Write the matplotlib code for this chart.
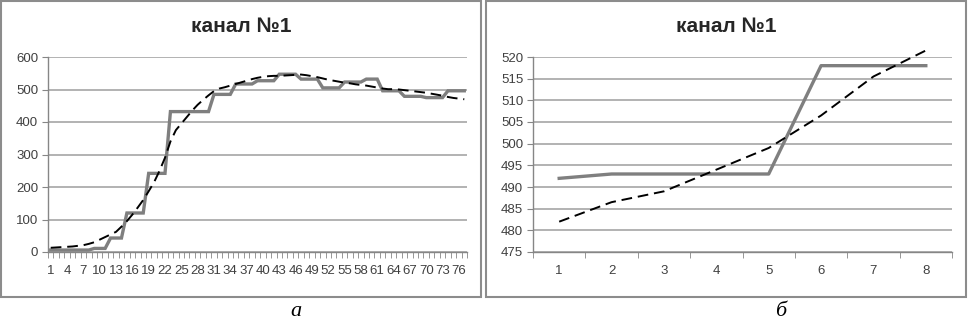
import matplotlib.pyplot as plt
from matplotlib.patches import Rectangle
import numpy as np

# ---- data ----
title_a = "канал №1"
title_b = "канал №1"

# panel a: 77 samples
measured_a = [
    6, 6, 6, 6, 6, 6, 6, 6, 11, 11, 11,
    43, 43, 43, 120, 120, 120, 120, 242, 242, 242, 242,
    432, 432, 432, 432, 432, 432, 432, 432,
    485, 485, 485, 485, 517, 517, 517, 517,
    527, 527, 527, 527, 547, 547, 547, 547,
    532, 532, 532, 532, 505, 505, 505, 505,
    523, 523, 523, 523, 532, 532, 532,
    496, 496, 496, 496, 479, 479, 479, 479,
    475, 475, 475, 475, 496, 496, 496, 496,
]
trend_a = [
    13, 14, 15, 16, 17, 19, 21, 25, 30, 38,
    46, 54, 62, 78, 95, 115, 137, 160, 187, 215,
    250, 290, 340, 375, 395, 415, 435, 453, 468, 482,
    495, 503, 507, 512, 517, 522, 527, 532, 536, 539,
    541, 542, 542, 543, 544, 545, 546, 544, 541, 538,
    534, 530, 527, 524, 521, 519, 516, 514, 512, 509,
    506, 503, 501, 501, 500, 498, 496, 494, 492, 490,
    487, 484, 481, 477, 474, 472, 470,
]
xlabels_a = list(range(1, 77, 3))

# panel b: 8 samples
measured_b = [492, 493, 493, 493, 493, 518, 518, 518]
trend_b = [482, 486.5, 489, 494, 499, 506.5, 515.5, 521.5]

captions = ["а", "б"]

W, H = 968, 322
fig = plt.figure(figsize=(W / 100, H / 100), dpi=100)

label_font = ["Liberation Sans", "DejaVu Sans"]
title_font = ["Liberation Sans Narrow", "Liberation Sans", "DejaVu Sans"]
grid_c = "#a6a6a6"
axis_c = "#868686"
text_c = "#404040"


def px_axes(x0, x1, y_top, y_bot):
    return fig.add_axes([x0 / W, (H - y_bot) / H, (x1 - x0) / W, (y_bot - y_top) / H])


def style(ax, n, ylim, ystep, xlabels):
    ax.set_xlim(0.5, n + 0.5)
    ax.set_ylim(*ylim)
    ax.set_yticks(np.arange(ylim[0], ylim[1] + ystep / 2, ystep))
    ax.set_xticks(xlabels)
    ax.set_xticklabels([str(v) for v in xlabels])
    ax.set_xticks(np.arange(0.5, n + 1, 1), minor=True)
    ax.tick_params(axis="x", which="major", length=0, pad=9, labelsize=9.5,
                   labelcolor=text_c)
    ax.tick_params(axis="x", which="minor", length=4, direction="out",
                   color=axis_c)
    ax.tick_params(axis="y", length=4, color=axis_c, labelsize=9.5,
                   labelcolor=text_c, pad=3)
    for lab in ax.get_xticklabels() + ax.get_yticklabels():
        lab.set_family(label_font)
    for s in ["top", "right"]:
        ax.spines[s].set_visible(False)
    for s in ["left", "bottom"]:
        ax.spines[s].set_color(axis_c)
        ax.spines[s].set_linewidth(1)
    ax.grid(axis="y", color=grid_c, linewidth=1.2)
    ax.set_axisbelow(True)


# panel a
ax1 = px_axes(48, 467, 57, 252)
xa = np.arange(1, len(measured_a) + 1)
ax1.plot(xa, measured_a, color="#7f7f7f", lw=2.4, solid_joinstyle="miter")
ax1.plot(xa, trend_a, color="black", lw=1.4, dashes=(5.5, 3), clip_on=False)
style(ax1, len(measured_a), (0, 600), 100, xlabels_a)

# panel b
ax2 = px_axes(533, 952, 57, 252)
xb = np.arange(1, len(measured_b) + 1)
ax2.plot(xb, measured_b, color="#7f7f7f", lw=2.4)
ax2.plot(xb, trend_b, color="black", lw=1.4, dashes=(5.5, 3), clip_on=False)
style(ax2, len(measured_b), (475, 520), 5, list(xb))

# frames, titles, captions
for (x0, x1), title, cap in zip([(1, 481), (486, 966)], [title_a, title_b], captions):
    fig.patches.append(Rectangle((x0 / W, (H - 297) / H), (x1 - x0) / W, 296 / H,
                                 transform=fig.transFigure, fill=False,
                                 ec="#8c8c8c", lw=1.5))
    fig.text((x0 + x1) / 2 / W, (H - 27) / H, title, ha="center", va="center",
             fontsize=15, fontweight="bold", family=title_font, color="#262626")
    fig.text((x0 + x1) / 2 / W + 55 / W, (H - 311) / H, cap, ha="center",
             va="center", fontsize=16, style="italic",
             family=["Liberation Serif", "DejaVu Serif"])

fig.savefig("out.png", dpi=100)
